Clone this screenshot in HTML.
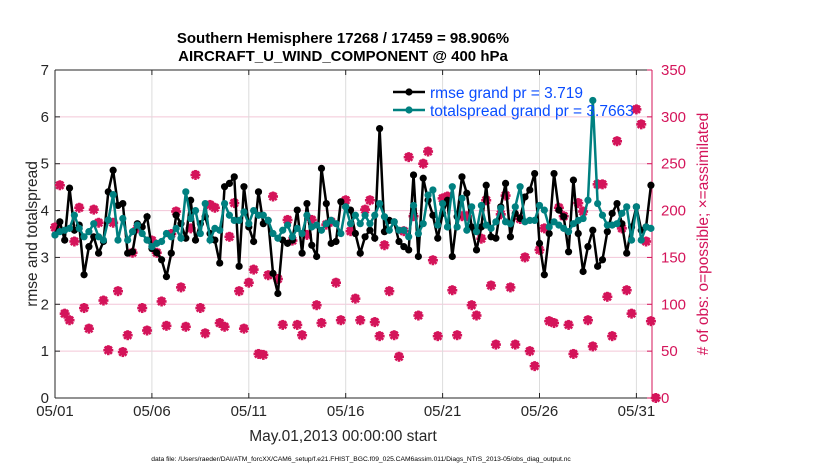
<!DOCTYPE html>
<html><head><meta charset="utf-8"><style>
body{margin:0;background:#fff;font-family:"Liberation Sans",Arial,sans-serif}
svg text{font-family:"Liberation Sans",Arial,sans-serif}
</style></head><body>
<svg id="c" width="830" height="470" xmlns="http://www.w3.org/2000/svg"></svg>
<script>
const rmse=[3.48,3.76,3.37,4.48,3.58,3.69,2.63,3.23,3.44,3.09,3.34,4.40,4.86,4.11,4.15,3.09,3.12,3.72,3.65,3.87,3.19,3.1,2.95,2.59,3.09,3.9,3.72,3.41,4.22,3.37,3.72,3.87,3.51,3.37,2.88,4.51,4.58,4.72,2.81,4.51,3.65,3.34,4.40,
3.72,3.79,2.66,2.23,3.37,3.30,3.37,4.01,3.09,4.15,3.26,3.02,4.90,4.15,3.30,3.34,4.19,4.08,4.01,3.51,3.09,3.44,3.58,3.41,5.75,3.55,3.79,3.76,3.34,3.23,3.16,4.76,3.02,4.69,4.22,3.9,3.41,3.94,4.22,3.02,3.87,
4.72,4.37,3.65,3.16,3.65,4.54,3.44,3.41,4.08,4.58,3.44,3.94,3.83,4.29,4.44,4.79,3.3,2.63,3.51,4.79,4.01,3.87,3.12,4.65,3.51,2.70,3.23,3.58,2.81,2.95,3.55,3.94,4.15,3.72,3.09,3.65,4.08,3.58,3.65,4.54];
const spread=[3.48,3.55,3.58,3.62,3.9,3.62,3.44,3.55,3.72,3.44,3.37,3.8,4.34,3.37,3.83,3.37,3.55,3.69,3.51,3.37,3.23,3.30,3.34,3.51,3.44,3.62,3.41,4.4,3.83,4.0,3.51,4.15,3.37,3.62,3.58,4.15,3.9,3.79,3.79,3.97,3.72,4.0,3.9,
3.9,3.79,3.51,3.41,3.58,3.69,3.44,3.62,3.51,3.9,3.65,3.69,3.58,3.72,3.79,3.72,3.51,4.08,3.72,3.9,3.72,3.9,3.72,3.9,4.15,3.87,3.58,3.76,3.58,3.58,3.44,4.11,3.51,3.72,4.33,4.44,3.69,4.15,3.65,4.51,3.65,
4.26,3.58,4.08,3.55,4.11,3.69,3.62,3.76,4.05,3.76,3.72,4.08,4.51,3.76,3.79,3.79,4.11,4.01,3.65,3.76,3.69,3.62,3.55,3.72,3.79,3.83,4.22,6.35,4.15,3.9,3.69,3.69,3.72,3.94,4.08,3.37,4.08,3.37,3.65,3.62];
const nobs=[182,227,90,83,167,203,96,74,201,187,104,51,187,114,49,67,155,181,96,72,168,155,103,77,175,199,118,76,181,238,96,69,206,203,80,76,172,208,114,74,123,137,47,
46,131,215,127,78,190,168,78,67,174,190,99,80,185,188,123,83,211,178,106,83,201,211,81,66,163,114,67,44,178,257,194,88,250,263,147,66,213,215,115,67,
194,194,99,88,170,211,120,57,196,216,118,57,191,150,50,34,158,181,82,80,203,194,78,47,208,199,83,55,228,228,108,66,274,181,115,90,308,292,167,82,0];
const yTicks=[0,1,2,3,4,5,6,7];
const y2Ticks=[0,50,100,150,200,250,300,350];
const xTickDays=[0,5,10,15,20,25,30];
const xTickLabels=["05/01","05/06","05/11","05/16","05/21","05/26","05/31"];

const L=55,R=652,T=70,B=398;
const xs=d=>L+d*19.38;
const ys=v=>B-(v/7)*(B-T);
const ys2=v=>B-(v/350)*(B-T);
const svg=document.getElementById('c');
const NS="http://www.w3.org/2000/svg";
function mk(tag,attrs,parent){const e=document.createElementNS(NS,tag);for(const k in attrs)e.setAttribute(k,attrs[k]);(parent||svg).appendChild(e);return e;}
function txt(s,attrs){const e=mk('text',attrs);e.textContent=s;return e;}

yTicks.forEach(v=>{const l=mk('line',{x1:L,x2:R,y1:ys(v),y2:ys(v),stroke:'#f3c6d8','stroke-width':1});

});
xTickDays.forEach(d=>{const l=mk('line',{x1:xs(d),x2:xs(d),y1:T,y2:B,stroke:'#dcdcdc','stroke-width':1});

});

mk('line',{x1:L,x2:R,y1:T,y2:T,stroke:'#262626'});
mk('line',{x1:L,x2:R,y1:B,y2:B,stroke:'#262626'});
mk('line',{x1:L,x2:L,y1:T,y2:B,stroke:'#262626'});
mk('line',{x1:R,x2:R,y1:T,y2:B,stroke:'#d4145a'});

yTicks.forEach(v=>{mk('line',{x1:L,x2:L+5,y1:ys(v),y2:ys(v),stroke:'#262626'});
const t=txt(String(v),{x:L-6,y:ys(v)+5,'text-anchor':'end','font-size':15,fill:'#262626'});

});
y2Ticks.forEach(v=>{mk('line',{x1:R-5,x2:R,y1:ys2(v),y2:ys2(v),stroke:'#d4145a'});
const t=txt(String(v),{x:R+9,y:ys2(v)+5,'font-size':15,fill:'#d4145a'});

});
xTickDays.forEach((d,i)=>{mk('line',{x1:xs(d),x2:xs(d),y1:B,y2:B-5,stroke:'#262626'});mk('line',{x1:xs(d),x2:xs(d),y1:T,y2:T+5,stroke:'#262626'});
const t=txt(xTickLabels[i],{x:xs(d),y:B+18,'text-anchor':'middle','font-size':15,fill:'#262626'});

});

nobs.forEach((n,i)=>{const x=xs(i*0.25),y=ys2(n);const g=mk('g',{stroke:'#d4145a','stroke-width':2.6});


mk('circle',{cx:x,cy:y-1,r:3,fill:'none','stroke-width':1.6},g);
[[0,5],[5,0],[3.6,3.6],[3.6,-3.6]].forEach(([a,b])=>mk('line',{x1:x-a,y1:y-b,x2:x+a,y2:y+b},g));});

function series(vals,color,name){
 const p=mk('polyline',{points:vals.map((v,i)=>xs(i*0.25)+','+ys(v)).join(' '),fill:'none',stroke:color,'stroke-width':2.5});
 
 
 vals.forEach((v,i)=>{const c=mk('circle',{cx:xs(i*0.25),cy:ys(v),r:3.6,fill:color});
 
 });
}
series(rmse,'#000','rmse');
series(spread,'#008080','totalspread');

const lg=mk('g',{});


mk('line',{x1:393,x2:425,y1:92,y2:92,stroke:'#000','stroke-width':2.5},lg);
mk('circle',{cx:409,cy:92,r:3.6,fill:'#000'},lg);
mk('line',{x1:393,x2:425,y1:110,y2:110,stroke:'#008080','stroke-width':2.5},lg);
mk('circle',{cx:409,cy:110,r:3.6,fill:'#008080'},lg);
let t=txt('rmse grand pr = 3.719',{x:430,y:98,'font-size':15.5,fill:'#0a4cff'});


t=txt('totalspread grand pr = 3.7663',{x:430,y:116,'font-size':15.5,fill:'#0a4cff'});



t=txt('Southern Hemisphere 17268 / 17459 = 98.906%',{x:343,y:43,'text-anchor':'middle','font-size':15,'font-weight':'bold',fill:'#000'});


t=txt('AIRCRAFT_U_WIND_COMPONENT @ 400 hPa',{x:343,y:61,'text-anchor':'middle','font-size':15,'font-weight':'bold',fill:'#000'});


t=txt('rmse and totalspread',{x:0,y:0,'text-anchor':'middle','font-size':15.5,fill:'#262626',transform:'translate(37,234) rotate(-90)'});


t=txt('# of obs: o=possible; \u00d7=assimilated',{x:0,y:0,'text-anchor':'middle','font-size':15.5,fill:'#d4145a',transform:'translate(708,234) rotate(-90)'});


t=txt('May.01,2013 00:00:00 start',{x:343,y:441,'text-anchor':'middle','font-size':15.5,fill:'#262626'});


t=txt('data file: /Users/raeder/DAI/ATM_forcXX/CAM6_setup/f.e21.FHIST_BGC.f09_025.CAM6assim.011/Diags_NTrS_2013-05/obs_diag_output.nc',{x:361,y:461,'text-anchor':'middle','font-size':6.7,fill:'#000'});


</script>
</body></html>
